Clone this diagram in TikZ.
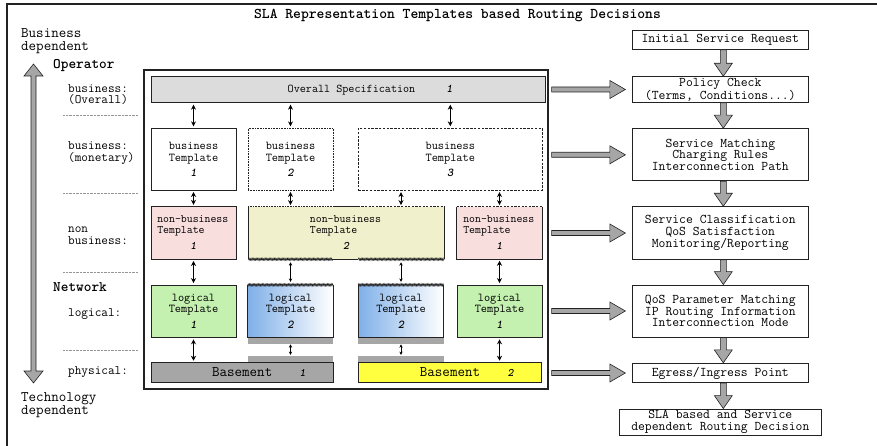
\documentclass[tikz,border=0pt]{standalone}
\usepackage{fontspec}
\usetikzlibrary{arrows.meta,calc,decorations.pathmorphing}

\definecolor{barGray}{RGB}{220,220,220}
\definecolor{nbPink}{RGB}{249,222,222}
\definecolor{nbCream}{RGB}{240,240,204}
\definecolor{logGreen}{RGB}{196,240,176}
\definecolor{logBlue}{RGB}{128,176,232}
\definecolor{baseGray}{RGB}{166,166,166}
\definecolor{baseYellow}{RGB}{255,255,64}
\definecolor{arrowGray}{RGB}{166,166,166}
\definecolor{lineDark}{RGB}{34,34,34}
\definecolor{sepGray}{RGB}{150,150,150}

\newcommand\nm[1]{{\bfseries\slshape #1}}
\newcommand\fsz[2]{\ttfamily\fontsize{#1}{#2}\selectfont}

% fat gray arrow pointing right, from #1 to #2
\newcommand\fatright[2]{\path[fatarrow] let \p1=#1, \p2=#2 in
  (\x1+3pt,\y1-2.5pt) -- (\x2-22pt,\y1-2.5pt) -- (\x2-22pt,\y1-9pt) --
  (\x2-6.5pt,\y1) -- (\x2-22pt,\y1+9pt) -- (\x2-22pt,\y1+2.5pt) --
  (\x1+3pt,\y1+2.5pt) -- cycle;}
% fat gray arrow pointing down, from #1 to #2
\newcommand\fatdown[2]{\path[fatarrow] let \p1=#1, \p2=#2 in
  (\x1,\y1) -- (\x1,\y2+13pt) -- (\x1-6pt,\y2+13pt) -- (\x1+3pt,\y2) --
  (\x1+12pt,\y2+13pt) -- (\x1+6pt,\y2+13pt) -- (\x1+6pt,\y1) -- cycle;}

\begin{document}
\begin{tikzpicture}[x=1pt,y=-1pt,
  fatarrow/.style={fill=arrowGray,draw=lineDark,line width=0.6pt,line join=miter},
  tpl/.style={draw=lineDark,line width=0.9pt,inner sep=0pt,align=center,
    font=\fsz{12}{11.7}},
  nbtpl/.style={inner sep=0pt,align=left,font=\fsz{11.5}{10.6},
    minimum width=85pt,minimum height=52.3pt},
  logtpl/.style={inner sep=0pt,align=center,font=\fsz{12}{11.3},
    minimum width=85pt,minimum height=52.3pt},
  basebox/.style={draw=lineDark,line width=0.9pt,inner sep=0pt,
    minimum height=19.6pt,font=\fsz{14.6}{15}},
  flow/.style={draw=lineDark,line width=0.9pt,fill=white,inner sep=0pt,
    minimum width=176pt,align=center,font=\fsz{13.3}{11.8}},
  solidedge/.style={draw=lineDark,line width=0.9pt},
  dotedge/.style={draw=lineDark,line width=1.4pt,dash pattern=on 0.9pt off 0.7pt},
  dashedge/.style={draw=lineDark,line width=1.4pt,dash pattern=on 2.2pt off 1.4pt},
  hatchedge/.style={draw=lineDark,line width=0.5pt,decorate,
    decoration={zigzag,amplitude=1.1pt,segment length=1.3pt}},
  dbl/.style={{Stealth[length=5pt,width=5pt]}-{Stealth[length=5pt,width=5pt]},
    line width=1pt,shorten <=1.5pt,shorten >=1.5pt},
  dbls/.style={{Stealth[length=3.4pt,width=3.4pt]}-{Stealth[length=3.4pt,width=3.4pt]},
    line width=0.75pt,shorten <=3pt,shorten >=3pt},
  lbl/.style={anchor=base west,inner sep=0pt,font=\fsz{12.9}{13}},
  biglbl/.style={anchor=base west,inner sep=0pt,font=\fsz{14.6}{15}},
  sep/.style={sepGray,line width=0.6pt,dash pattern=on 0.7pt off 0.7pt},
  numlbl/.style={inner sep=0pt,font=\fsz{11.4}{12}}
]
\useasboundingbox (0,0) rectangle (877,446);
\fill[white] (0,0) rectangle (877,446);

% outer frame
\draw[lineDark,line width=1.2pt] (880,4) -- (7,4) -- (7,450);

% title
\node[anchor=base,inner sep=0pt,font=\fsz{14.9}{15}\bfseries] (title) at (457.5,19)
  {SLA Representation Templates based Routing Decisions};

% left scale
\node[biglbl] (bd1) at (21,38) {Business};
\node[biglbl] (bd2) at (21,51) {dependent};
\node[biglbl,font=\fsz{14.6}{15}\bfseries] (oper) at (53,69) {Operator};
\node[lbl] (la1) at (68,92.7) {business:};
\node[lbl] (la2) at (68,104) {(Overall)};
\node[lbl] (lb1) at (68,149.3) {business:};
\node[lbl] (lb2) at (68,161.7) {(monetary)};
\node[lbl] (lc1) at (68,232.2) {non};
\node[lbl] (lc2) at (68,244.8) {business:};
\node[biglbl,font=\fsz{14.6}{15}\bfseries] (netw) at (53,291) {Network};
\node[lbl] (ld1) at (68,316) {logical:};
\node[lbl] (le1) at (68,374.3) {physical:};
\node[biglbl] (td1) at (21,401) {Technology};
\node[biglbl] (td2) at (21,414) {dependent};

\draw[sep] (63,115) -- (138,115);
\draw[sep] (63,193) -- (138,193);
\draw[sep] (63,272) -- (138,272);
\draw[sep] (63,350) -- (138,350);

% business / technology double arrow
\coordinate (ltop) at (33.5,64);
\coordinate (lbot) at (33.5,383);
\path[fatarrow] let \p1=(ltop), \p2=(lbot) in
  (\x1,\y1) -- (\x1+9.5pt,\y1-12pt) -- (\x1+2.5pt,\y1-12pt) -- (\x1+2.5pt,\y2+12pt) --
  (\x1+9.5pt,\y2+12pt) -- (\x2,\y2) -- (\x1-9.5pt,\y2+12pt) -- (\x1-2.5pt,\y2+12pt) --
  (\x1-2.5pt,\y1-12pt) -- (\x1-9.5pt,\y1-12pt) -- cycle;

% template container
\node[draw=lineDark,line width=1.3pt,fill=white,inner sep=0pt,
  minimum width=404pt,minimum height=319pt] (cont) at (346,229.5) {};

% overall specification
\node[tpl,fill=barGray,minimum width=394.7pt,minimum height=26pt] (ov) at (348.4,89.7) {};
\node[anchor=west,inner sep=0pt,font=\fsz{11.8}{12}] (ovt) at (287.5,89.7)
  {Overall Specification\hspace{31pt}\nm{1}};

% business templates
\node[tpl,minimum width=85pt,minimum height=61.7pt] (b1) at (193.5,159.2)
  {business\\Template\\[3.3pt]\nm{1}};
\node[tpl,draw=lineDark,line width=0.8pt,dash pattern=on 0.8pt off 0.8pt,
  minimum width=85pt,minimum height=61.7pt] (b2) at (290.5,159.2)
  {business\\Template\\[3.3pt]\nm{2}};
\node[tpl,line width=1pt,dash pattern=on 2.4pt off 1.4pt,
  minimum width=184pt,minimum height=61.7pt] (b3) at (450.3,159.2)
  {business\\Template\\[3.3pt]\nm{3}};

% non-business templates
\node[nbtpl,fill=nbPink,solidedge] (nb1) at (193.5,232.9)
  {non-business\\Template\\[5.8pt]\hbox to 72.5pt{\hss\nm{1}\hss}};
\node[nbtpl,fill=nbCream,minimum width=195.7pt] (nb2) at (346.2,232.9)
  {non-business\\Template\\[5.8pt]\hbox to 72.5pt{\hss\nm{2}\hss}};
\node[nbtpl,fill=nbPink] (nb3) at (499.5,232.9)
  {non-business\\Template\\[5.8pt]\hbox to 72.5pt{\hss\nm{1}\hss}};

% logical templates
\node[logtpl,fill=logGreen,solidedge] (l1) at (193.5,311.2)
  {logical\\Template\\[4.7pt]\nm{1}};
\node[logtpl,left color=logBlue,right color=white] (l2a) at (290.5,311.2)
  {logical\\Template\\[4.7pt]\nm{2}};
\node[logtpl,left color=logBlue,right color=white] (l2b) at (401,311.2)
  {logical\\Template\\[4.7pt]\nm{2}};
\node[logtpl,fill=logGreen,solidedge] (l3) at (499.5,311.2)
  {logical\\Template\\[4.7pt]\nm{1}};

% basements
\node[basebox,fill=baseGray,minimum width=182.3pt] (bs1) at (242.2,372.5) {Basement};
\node[basebox,fill=baseYellow,minimum width=183.4pt] (bs2) at (450,372.5) {Basement};
\node[numlbl] (bs1n) at ($(bs1)+(60.5,0)$) {\nm{1}};
\node[numlbl] (bs2n) at ($(bs2)+(60.7,0)$) {\nm{2}};

% edges of the shared template 2 boxes
\draw[solidedge] (nb2.north west) -- (nb2.south west);
\draw[solidedge] (nb2.north east) -- (nb2.south east);
\draw[dotedge] (nb2.north west) -- (nb2.north -| b2.east);
\draw[solidedge] (nb2.north -| b2.east) -- (nb2.north -| b3.west);
\draw[dashedge] (nb2.north -| b3.west) -- (nb2.north east);
\draw[hatchedge] (nb2.south west) -- (nb2.south -| l2a.east);
\draw[solidedge] (nb2.south -| l2a.east) -- (nb2.south -| l2b.west);
\draw[hatchedge] (nb2.south -| l2b.west) -- (nb2.south east);

\draw[solidedge] (nb3.north west) -- (nb3.south west) -- (nb3.south east) -- (nb3.north east);
\draw[dashedge] (nb3.north west) -- (nb3.north east);

\draw[solidedge] (l2a.north west) -- (l2a.south west) -- (l2a.south east) -- (l2a.north east);
\draw[hatchedge] (l2a.north west) -- (l2a.north east);
\draw[solidedge] (l2b.north west) -- (l2b.south west) -- (l2b.south east) -- (l2b.north east);
\draw[hatchedge] (l2b.north west) -- (l2b.north east);

% gray pads below logical template 2 and above the basements
\fill[baseGray] (l2a.south west) rectangle ($(l2a.south east)+(0,6)$);
\fill[baseGray] (l2b.south west) rectangle ($(l2b.south east)+(0,6)$);
\fill[baseGray] ($(bs1.north -| l2a.west)+(0,-6.5)$) rectangle (bs1.north -| l2a.east);
\fill[baseGray] ($(bs2.north -| l2b.west)+(0,-6.5)$) rectangle (bs2.north -| l2b.east);
\coordinate (sh1) at ($(l2a.south)+(0,6)$);
\coordinate (sh2) at ($(l2b.south)+(0,6)$);
\coordinate (pd1) at ($(l2a.south |- bs1.north)+(0,-6.5)$);
\coordinate (pd2) at ($(l2b.south |- bs2.north)+(0,-6.5)$);

% template relations
\draw[dbl] (b1.north |- ov.south) -- (b1.north);
\draw[dbl] (b2.north |- ov.south) -- (b2.north);
\draw[dbl] (b3.north |- ov.south) -- (b3.north);
\draw[dbl] (b1.south) -- (nb1.north);
\draw[dbl] (b2.south) -- (b2.south |- nb2.north);
\draw[dbl] (l2b.north |- b3.south) -- (l2b.north |- nb2.north);
\draw[dbl] (nb3.north |- b3.south) -- (nb3.north);
\draw[dbl] (nb1.south) -- (l1.north);
\draw[dbls] (l2a.north |- nb2.south) -- (l2a.north);
\draw[dbls] (l2b.north |- nb2.south) -- (l2b.north);
\draw[dbl] (nb3.south) -- (l3.north);
\draw[dbl] (l1.south) -- (l1.south |- bs1.north);
\draw[dbls,shorten <=0.8pt,shorten >=0.8pt] (sh1) -- (pd1);
\draw[dbls,shorten <=0.8pt,shorten >=0.8pt] (sh2) -- (pd2);
\draw[dbl] (l3.south) -- (l3.south |- bs2.north);

% routing decision flow
\node[flow,minimum height=18.5pt] (init) at (720.3,40.2) {Initial Service Request};
\node[flow,minimum height=25.6pt] (pol) at (720.3,89.5) {Policy Check\\(Terms, Conditions...)};
\node[flow,minimum height=52.3pt] (sm) at (720.3,154.8)
  {Service Matching\\Charging Rules\\Interconnection Path};
\node[flow,minimum height=52.6pt] (sc) at (720.3,233)
  {Service Classification\\QoS Satisfaction\\Monitoring/Reporting};
\node[flow,minimum height=52pt] (qos) at (720.3,311)
  {QoS Parameter Matching\\IP Routing Information\\Interconnection Mode};
\node[flow,minimum height=19.4pt] (eg) at (720.3,373) {Egress/Ingress Point};
\node[flow,minimum width=202pt,minimum height=26pt] (sla) at (720.3,422)
  {SLA based and Service\\dependent Routing Decision};

\fatdown{(init.south)}{(pol.north)}
\fatdown{(pol.south)}{(sm.north)}
\fatdown{(sm.south)}{(sc.north)}
\fatdown{(sc.south)}{(qos.north)}
\fatdown{(qos.south)}{(eg.north)}
\fatdown{(eg.south)}{(sla.north)}

\fatright{(cont.east |- pol.west)}{(pol.west)}
\fatright{(cont.east |- sm.west)}{(sm.west)}
\fatright{(cont.east |- sc.west)}{(sc.west)}
\fatright{(cont.east |- qos.west)}{(qos.west)}
\fatright{(cont.east |- eg.west)}{(eg.west)}
\end{tikzpicture}
\end{document}
